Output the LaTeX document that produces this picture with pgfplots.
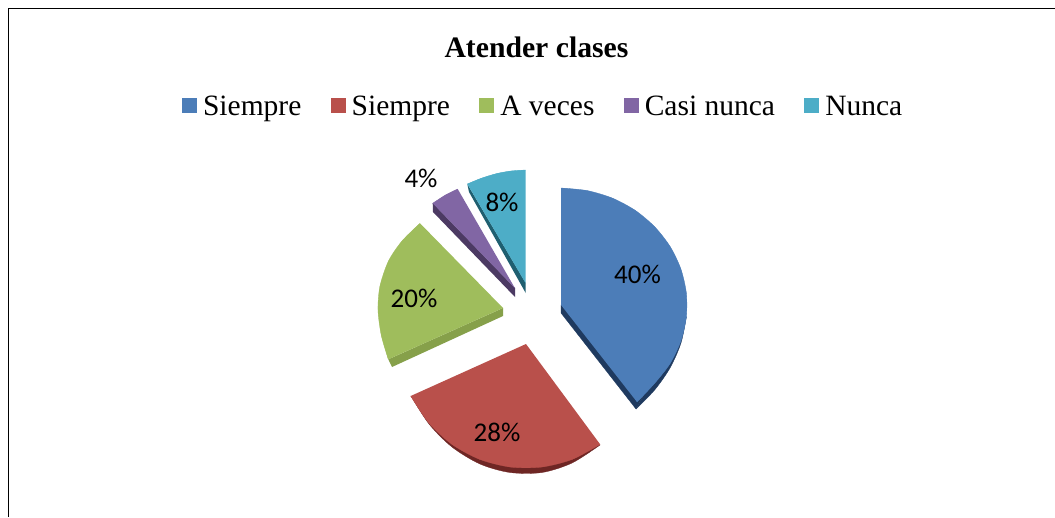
\documentclass[border=0pt]{standalone}
\usepackage{fontspec}
\setmainfont{Liberation Serif}
\newfontfamily\lblfont{Carlito}
\usepackage{pgfplots}
\pgfplotsset{compat=1.18}
\definecolor{cblue}{HTML}{4C7DB8}
\definecolor{cred}{HTML}{B9504B}
\definecolor{cgreen}{HTML}{9FBD5C}
\definecolor{cpurple}{HTML}{8166A4}
\definecolor{cteal}{HTML}{4DADC7}
\definecolor{sblue}{HTML}{1F3A5F}
\definecolor{sred}{HTML}{6E2624}
\definecolor{sgreen}{HTML}{86A04A}
\definecolor{spurple}{HTML}{4C3A63}
\definecolor{steal}{HTML}{1F5F70}
\begin{document}
\begin{tikzpicture}
\begin{axis}[
  scale only axis, width=1055pt, height=517pt,
  xmin=0, xmax=1055, ymin=0, ymax=517, y dir=reverse,
  axis lines=none, ticks=none, clip=true,
  title={Atender clases},
  title style={at={(0.5085,0.897)}, anchor=center, inner sep=0pt, font=\fontsize{29.7}{33}\selectfont\bfseries},
  legend columns=5,
  legend style={at={(0.5149,0.789)}, anchor=center, draw=none, fill=none,
    font=\fontsize{29.5}{32}\selectfont, inner sep=0pt, outer sep=0pt,
    nodes={text height=20pt, text depth=6.5pt},
    /tikz/every even column/.append style={column sep=27.3pt}},
  legend cell align=left,
  legend image code/.code={\fill[#1] (0pt,-3.5pt) rectangle (15pt,11.5pt); \path (19pt,0pt);},
]
% page extent
\addplot[forget plot, fill=white, draw=none] coordinates {(0,0) (1055,0) (1055,517) (0,517)} -- cycle;
% frame
\addplot[forget plot, black, line width=1.5pt] coordinates {(8.5,517) (8.5,8.5) (1055,8.5)};
% side faces
\addplot[forget plot, fill=sblue, draw=sblue, line width=0.3pt] coordinates {(561,305) (561,313) (636,409) (686.3,317)} -- cycle;
\addplot[forget plot, fill=sblue, draw=sblue, line width=0.3pt, smooth] coordinates {(636,409) (654.6,390) (670,368) (681,343) (686.3,317)};
\addplot[forget plot, fill=sred, draw=sred, line width=0.3pt, smooth] coordinates {(600,445) (572,463) (542,472.5) (510,472.5) (480,464) (452,447) (429,424) (411,396)};
\addplot[forget plot, fill=sgreen, draw=none] coordinates {(503,308) (503,316) (392,367) (388.3,359.3)} -- cycle;
\addplot[forget plot, fill=spurple, draw=none] coordinates {(515,288) (515,297) (433,212) (432.7,203)} -- cycle;
\addplot[forget plot, fill=steal, draw=none] coordinates {(525.7,283) (525.7,293) (469,192) (467.3,184)} -- cycle;
% top faces: smooth rims
\addplot[forget plot, fill=cblue, draw=cblue, line width=0.3pt, smooth] coordinates {(561,188) (587.2,190.6) (612.3,198.1) (635.1,210.3) (654.6,226.7) (670.1,246.5) (680.8,268.8) (686.3,292.7) (686.3,317.3) (680.8,341.2) (670.1,363.5) (654.6,383.3) (637,402)};
\addplot[forget plot, fill=cred, draw=cred, line width=0.3pt, smooth] coordinates {(600.1,444.3) (572.4,459.3) (541.8,467) (510.2,467) (479.6,459.3) (451.9,444.3) (428.9,423) (410.7,396)};
\addplot[forget plot, fill=cgreen, draw=cgreen, line width=0.3pt, smooth] coordinates {(388.3,359.3) (381.3,335.4) (378,310) (380,285.9) (388.5,261) (402,241) (420,223.3)};
\addplot[forget plot, fill=cpurple, draw=cpurple, line width=0.3pt, smooth] coordinates {(432.7,203.3) (445.5,195) (457.7,189)};
\addplot[forget plot, fill=cteal, draw=cteal, line width=0.3pt, smooth] coordinates {(467.3,184) (482,178) (497,173.5) (511,171) (525.7,170)};
% top faces: sectors
\addplot[fill=cblue, draw=none] coordinates {(561,305) (561,188) (587.2,190.6) (612.3,198.1) (635.1,210.3) (654.6,226.7) (670.1,246.5) (680.8,268.8) (686.3,292.7) (686.3,317.3) (680.8,341.2) (670.1,363.5) (654.6,383.3) (637,402)} -- cycle;
\addlegendentry{Siempre}
\addplot[fill=cred, draw=none] coordinates {(526,344) (600.1,444.3) (572.4,459.3) (541.8,467) (510.2,467) (479.6,459.3) (451.9,444.3) (428.9,423) (410.7,396)} -- cycle;
\addlegendentry{Siempre}
\addplot[fill=cgreen, draw=none] coordinates {(503,308) (388.3,359.3) (381.3,335.4) (378,310) (380,285.9) (388.5,261) (402,241) (420,223.3)} -- cycle;
\addlegendentry{A veces}
\addplot[fill=cpurple, draw=none] coordinates {(515,288.3) (432.7,203.3) (445.5,195) (457.7,189)} -- cycle;
\addlegendentry{Casi nunca}
\addplot[fill=cteal, draw=none] coordinates {(525.7,283.3) (467.3,184) (482,178) (497,173.5) (511,171) (525.7,170)} -- cycle;
\addlegendentry{Nunca}
% labels
\begin{scope}[every node/.style={font=\lblfont\fontsize{27}{30}\selectfont, inner sep=0pt, text=black}]
\node at (axis cs:637.5,274) {40\%};
\node at (axis cs:497,432) {28\%};
\node at (axis cs:414,298) {20\%};
\node at (axis cs:421,178) {4\%};
\node at (axis cs:502,202) {8\%};
\end{scope}
\end{axis}
\end{tikzpicture}
\end{document}
